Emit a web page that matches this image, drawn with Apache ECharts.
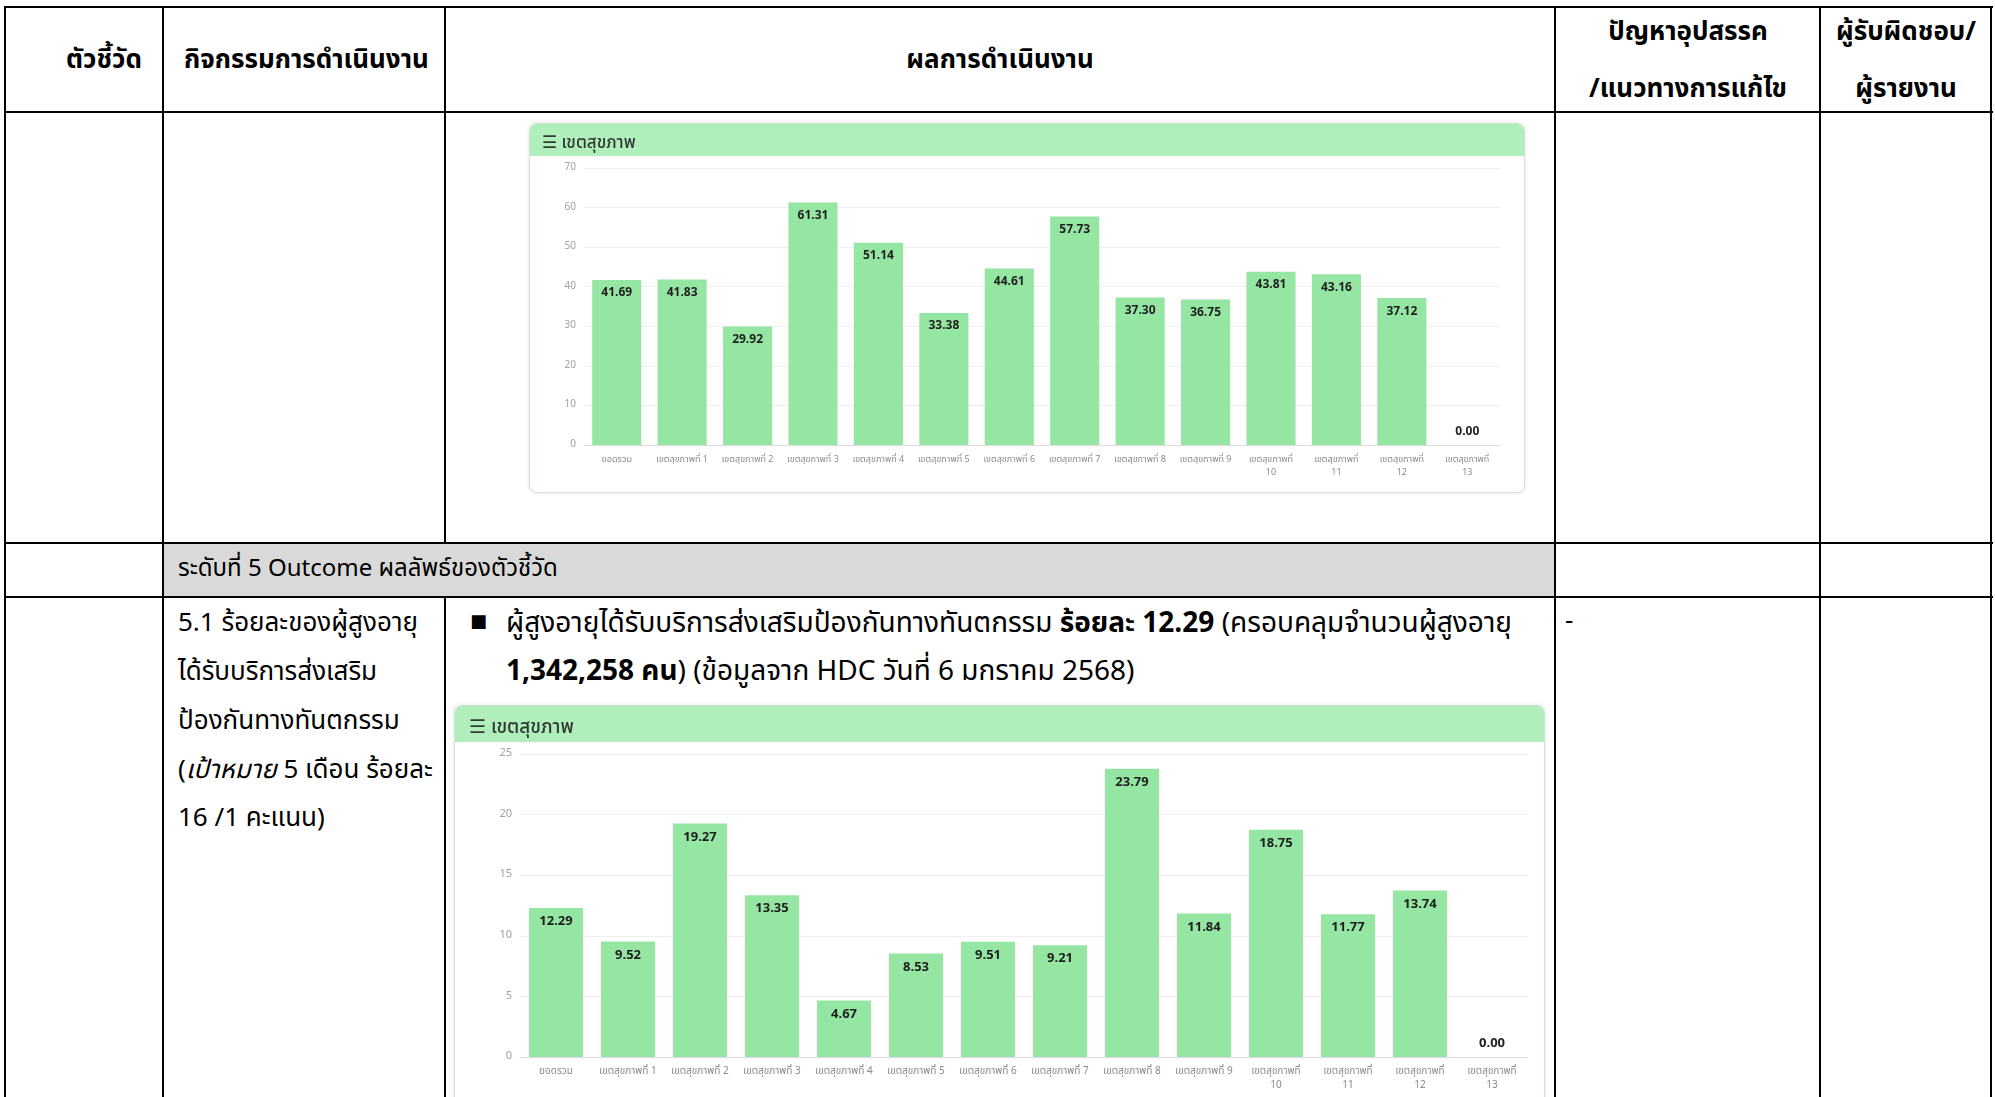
<!DOCTYPE html>
<html>
<head>
<meta charset="utf-8">
<title>ผลการดำเนินงาน</title>
<script src="https://cdn.jsdelivr.net/npm/echarts@6/dist/echarts.min.js"></script>
<style>
  body{margin:0;width:1995px;height:1097px;overflow:hidden;background:#fff;
    font-family:"Noto Sans Thai","Noto Sans","DejaVu Sans",sans-serif;color:#000;}
  .ln{position:absolute;background:#000;}
  .t{position:absolute;white-space:nowrap;transform:translateY(-50%);}
  .c{transform:translate(-50%,-50%);}
  .hd{font-size:26px;font-weight:bold;}
  .tx{font-size:26px;}
  .tx3{font-size:28px;}
  .gray{position:absolute;background:#d9d9d9;}
  .box{position:absolute;border:1px solid #d0e4d2;border-radius:8px;overflow:hidden;background:#fff;
    box-shadow:0 0 4px rgba(0,0,0,.12);}
</style>
</head>
<body>
<!-- แถบสีเทา -->
<div class="gray" style="left:163px;top:543px;width:1392px;height:54px"></div>

<!-- เส้นตาราง -->
<div class="ln" style="left:5px;top:6px;width:1988px;height:2px"></div>
<div class="ln" style="left:5px;top:111px;width:1988px;height:2px"></div>
<div class="ln" style="left:5px;top:542px;width:1988px;height:2px"></div>
<div class="ln" style="left:5px;top:596px;width:1988px;height:2px"></div>
<div class="ln" style="left:4px;top:6px;width:2px;height:1091px"></div>
<div class="ln" style="left:162px;top:6px;width:2px;height:1091px"></div>
<div class="ln" style="left:444px;top:6px;width:2px;height:538px"></div>
<div class="ln" style="left:444px;top:596px;width:2px;height:501px"></div>
<div class="ln" style="left:1554px;top:6px;width:2px;height:1091px"></div>
<div class="ln" style="left:1819px;top:6px;width:2px;height:1091px"></div>
<div class="ln" style="left:1990px;top:6px;width:2px;height:1091px"></div>

<!-- หัวตาราง -->
<div class="t c hd" style="left:104px;top:60px">ตัวชี้วัด</div>
<div class="t hd" style="left:184px;top:60px">กิจกรรมการดำเนินงาน</div>
<div class="t c hd" style="left:1000px;top:60px">ผลการดำเนินงาน</div>
<div class="t c hd" style="left:1688px;top:32px">ปัญหาอุปสรรค</div>
<div class="t c hd" style="left:1688px;top:89px">/แนวทางการแก้ไข</div>
<div class="t c hd" style="left:1906px;top:32px">ผู้รับผิดชอบ/</div>
<div class="t c hd" style="left:1906px;top:89px">ผู้รายงาน</div>

<div class="t" style="left:178px;top:569px;font-size:24px">ระดับที่ 5 Outcome ผลลัพธ์ของตัวชี้วัด</div>

<div class="t tx" style="left:178px;top:623px">5.1 ร้อยละของผู้สูงอายุ</div>
<div class="t tx" style="left:178px;top:672px">ได้รับบริการส่งเสริม</div>
<div class="t tx" style="left:178px;top:721px">ป้องกันทางทันตกรรม</div>
<div class="t tx" style="left:178px;top:770px">(<i>เป้าหมาย</i> 5 เดือน ร้อยละ</div>
<div class="t tx" style="left:178px;top:818px">16 /1 คะแนน)</div>

<div class="t" style="left:470px;top:621px;font-size:18px">■</div>
<div class="t tx3" style="left:506px;top:623px">ผู้สูงอายุได้รับบริการส่งเสริมป้องกันทางทันตกรรม <b>ร้อยละ 12.29</b> (ครอบคลุมจำนวนผู้สูงอายุ</div>
<div class="t tx3" style="left:506px;top:671px"><b>1,342,258 คน</b>) (ข้อมูลจาก HDC วันที่ 6 มกราคม 2568)</div>
<div class="t tx" style="left:1565px;top:621px">-</div>

<div id="chart1" class="box" style="left:529px;top:123px;width:994px;height:368px"></div>
<div id="chart2" class="box" style="left:454px;top:705px;width:1089px;height:430px"></div>

<script>
  // หมวดหมู่ (เขตสุขภาพ)
  const categories = ['ยอดรวม', 'เขตสุขภาพที่ 1', 'เขตสุขภาพที่ 2', 'เขตสุขภาพที่ 3', 'เขตสุขภาพที่ 4',
    'เขตสุขภาพที่ 5', 'เขตสุขภาพที่ 6', 'เขตสุขภาพที่ 7', 'เขตสุขภาพที่ 8', 'เขตสุขภาพที่ 9',
    'เขตสุขภาพที่\n10', 'เขตสุขภาพที่\n11', 'เขตสุขภาพที่\n12', 'เขตสุขภาพที่\n13'];
  // กราฟบน
  const values1 = [41.69, 41.83, 29.92, 61.31, 51.14, 33.38, 44.61, 57.73, 37.30, 36.75, 43.81, 43.16, 37.12, 0.00];
  const yTicks1 = [0, 10, 20, 30, 40, 50, 60, 70];
  // กราฟล่าง (ทันตกรรม)
  const values2 = [12.29, 9.52, 19.27, 13.35, 4.67, 8.53, 9.51, 9.21, 23.79, 11.84, 18.75, 11.77, 13.74, 0.00];
  const yTicks2 = [0, 5, 10, 15, 20, 25];

  const font = '"Noto Sans Thai","Noto Sans",sans-serif';

  function makeOption(vals, ticks, cfg) {
    return {
      animation: false,
      textStyle: { fontFamily: font },
      graphic: [
        { type: 'rect', left: 0, top: 0, shape: { width: 2000, height: cfg.band },
          style: { fill: '#b0eebb' }, silent: true }
      ],
      title: {
        text: '☰ เขตสุขภาพ',
        left: cfg.titleLeft, top: cfg.band / 2, textVerticalAlign: 'middle',
        textStyle: { color: '#2f3a33', fontSize: cfg.titleSize, fontWeight: 500, fontFamily: font }
      },
      grid: cfg.grid,
      xAxis: {
        type: 'category',
        data: categories,
        axisTick: { show: false },
        axisLine: { lineStyle: { color: '#dcdcdc' } },
        axisLabel: { interval: 0, color: '#8a8a8a', fontSize: cfg.catSize, lineHeight: cfg.catSize + 4,
          margin: cfg.catMargin }
      },
      yAxis: {
        type: 'value',
        min: ticks[0],
        max: ticks[ticks.length - 1],
        interval: ticks[1] - ticks[0],
        axisLabel: { color: '#a0a0a0', fontSize: cfg.ySize, margin: 8 },
        splitLine: { lineStyle: { color: '#eeeeee' } }
      },
      series: [{
        type: 'bar',
        barCategoryGap: '25%',
        itemStyle: { color: '#95e6a2' },
        label: {
          show: true, position: 'insideTop', distance: cfg.labDist,
          color: '#1e1e1e', fontWeight: 'bold', fontSize: cfg.labSize,
          formatter: p => Number(p.value).toFixed(2)
        },
        data: vals.map(v => v === 0 ? { value: v, label: { position: 'top', distance: 6 } } : v)
      }]
    };
  }

  const chart1 = echarts.init(document.getElementById('chart1'));
  chart1.setOption(makeOption(values1, yTicks1, {
    band: 32, titleLeft: 7, titleSize: 17,
    grid: { left: 54, right: 24, top: 44, bottom: 47 },
    catSize: 9, catMargin: 9, ySize: 10, labSize: 12, labDist: 8
  }));

  const chart2 = echarts.init(document.getElementById('chart2'));
  chart2.setOption(makeOption(values2, yTicks2, {
    band: 36, titleLeft: 9, titleSize: 19,
    grid: { left: 65, right: 16, top: 48, bottom: 79 },
    catSize: 10, catMargin: 8, ySize: 11, labSize: 13, labDist: 8
  }));
</script>
</body>
</html>
